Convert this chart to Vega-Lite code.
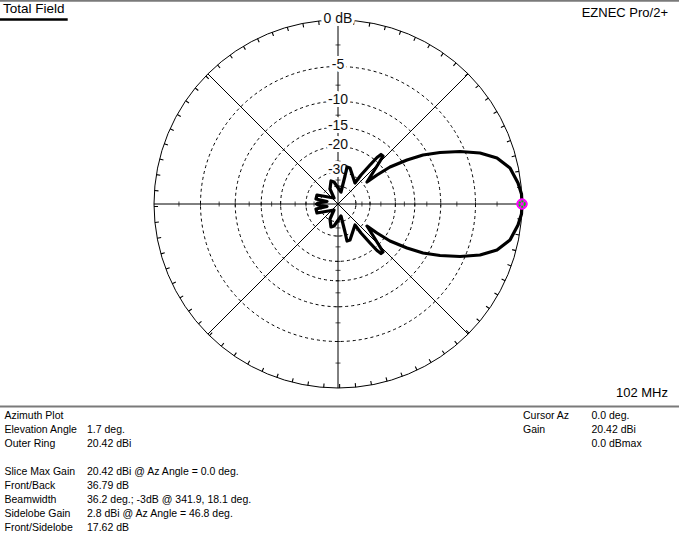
{
  "$schema": "https://vega.github.io/schema/vega-lite/v6.json",
  "width": 679,
  "height": 538,
  "autosize": {"type": "none"},
  "padding": 0,
  "background": "white",
  "config": {"view": {"stroke": null}, "text": {"font": "Liberation Sans"}},
  "datasets": {
    "rings": [
      {"db": 0, "r": 1, "lab": "0 dB"},
      {"db": -5, "r": 0.74727, "lab": "-5"},
      {"db": -10, "r": 0.55841, "lab": "-10"},
      {"db": -15, "r": 0.41727, "lab": "-15"},
      {"db": -20, "r": 0.3118, "lab": "-20"},
      {"db": -30, "r": 0.1741, "lab": "-30"},
      {"db": -40, "r": 0.09722, "lab": ""}
    ],
    "spokes": [
      {"x1": -1, "y1": 0, "x2": 1, "y2": 0},
      {"x1": 0, "y1": -1, "x2": 0, "y2": 1},
      {"x1": -0.70711, "y1": -0.70711, "x2": 0.70711, "y2": 0.70711},
      {"x1": -0.70711, "y1": 0.70711, "x2": 0.70711, "y2": -0.70711}
    ],
    "ticks": [
      {"t": 0.86444}, {"t": 0.74727}, {"t": 0.64596}, {"t": 0.55841}, {"t": 0.48274}, {"t": 0.41727},
      {"t": 0.36072}, {"t": 0.3118}, {"t": 0.233}, {"t": 0.1741}, {"t": 0.1301}, {"t": 0.09722},
      {"t": -0.86444}, {"t": -0.74727}, {"t": -0.64596}, {"t": -0.55841}, {"t": -0.48274}, {"t": -0.41727},
      {"t": -0.36072}, {"t": -0.3118}, {"t": -0.233}, {"t": -0.1741}, {"t": -0.1301}, {"t": -0.09722}
    ],
    "pattern": [
      {"i": 0, "x": 1.0, "y": 0.0},
      {"i": 1, "x": 0.9973, "y": 0.0543},
      {"i": 2, "x": 0.9783, "y": 0.1141},
      {"i": 3, "x": 0.9348, "y": 0.1957},
      {"i": 4, "x": 0.8641, "y": 0.25},
      {"i": 5, "x": 0.7717, "y": 0.2772},
      {"i": 6, "x": 0.663, "y": 0.2853},
      {"i": 7, "x": 0.5543, "y": 0.2799},
      {"i": 8, "x": 0.462, "y": 0.2663},
      {"i": 9, "x": 0.375, "y": 0.2391},
      {"i": 10, "x": 0.2826, "y": 0.2011},
      {"i": 11, "x": 0.212, "y": 0.1576},
      {"i": 12, "x": 0.1576, "y": 0.1196},
      {"i": 13, "x": 0.1984, "y": 0.1848},
      {"i": 14, "x": 0.2255, "y": 0.2283},
      {"i": 15, "x": 0.2446, "y": 0.2609},
      {"i": 16, "x": 0.2337, "y": 0.269},
      {"i": 17, "x": 0.212, "y": 0.2527},
      {"i": 18, "x": 0.1739, "y": 0.212},
      {"i": 19, "x": 0.125, "y": 0.1576},
      {"i": 20, "x": 0.0924, "y": 0.1141},
      {"i": 21, "x": 0.0761, "y": 0.163},
      {"i": 22, "x": 0.0652, "y": 0.1957},
      {"i": 23, "x": 0.0489, "y": 0.2011},
      {"i": 24, "x": 0.038, "y": 0.1522},
      {"i": 25, "x": 0.0163, "y": 0.0652},
      {"i": 26, "x": -0.0217, "y": 0.1196},
      {"i": 27, "x": -0.038, "y": 0.125},
      {"i": 28, "x": -0.0435, "y": 0.0815},
      {"i": 29, "x": -0.0217, "y": 0.0326},
      {"i": 30, "x": -0.1141, "y": 0.0489},
      {"i": 31, "x": -0.1196, "y": 0.0272},
      {"i": 32, "x": -0.0598, "y": 0.0136},
      {"i": 33, "x": -0.1087, "y": 0.0054},
      {"i": 34, "x": -0.1168, "y": 0.0},
      {"i": 35, "x": -0.1087, "y": -0.0054},
      {"i": 36, "x": -0.0598, "y": -0.0136},
      {"i": 37, "x": -0.1196, "y": -0.0272},
      {"i": 38, "x": -0.1141, "y": -0.0489},
      {"i": 39, "x": -0.0217, "y": -0.0326},
      {"i": 40, "x": -0.0435, "y": -0.0815},
      {"i": 41, "x": -0.038, "y": -0.125},
      {"i": 42, "x": -0.0217, "y": -0.1196},
      {"i": 43, "x": 0.0163, "y": -0.0652},
      {"i": 44, "x": 0.038, "y": -0.1522},
      {"i": 45, "x": 0.0489, "y": -0.2011},
      {"i": 46, "x": 0.0652, "y": -0.1957},
      {"i": 47, "x": 0.0761, "y": -0.163},
      {"i": 48, "x": 0.0924, "y": -0.1141},
      {"i": 49, "x": 0.125, "y": -0.1576},
      {"i": 50, "x": 0.1739, "y": -0.212},
      {"i": 51, "x": 0.212, "y": -0.2527},
      {"i": 52, "x": 0.2337, "y": -0.269},
      {"i": 53, "x": 0.2446, "y": -0.2609},
      {"i": 54, "x": 0.2255, "y": -0.2283},
      {"i": 55, "x": 0.1984, "y": -0.1848},
      {"i": 56, "x": 0.1576, "y": -0.1196},
      {"i": 57, "x": 0.212, "y": -0.1576},
      {"i": 58, "x": 0.2826, "y": -0.2011},
      {"i": 59, "x": 0.375, "y": -0.2391},
      {"i": 60, "x": 0.462, "y": -0.2663},
      {"i": 61, "x": 0.5543, "y": -0.2799},
      {"i": 62, "x": 0.663, "y": -0.2853},
      {"i": 63, "x": 0.7717, "y": -0.2772},
      {"i": 64, "x": 0.8641, "y": -0.25},
      {"i": 65, "x": 0.9348, "y": -0.1957},
      {"i": 66, "x": 0.9783, "y": -0.1141},
      {"i": 67, "x": 0.9973, "y": -0.0543},
      {"i": 68, "x": 1.0, "y": 0.0}
    ],
    "cursor": [{"az": 0, "x": 1, "y": 0}],
    "headL": [{"col": 0, "row": 0, "text": "Total Field"}],
    "headR": [
      {"col": 5, "row": 1, "text": "EZNEC Pro/2+"},
      {"col": 5, "row": 2, "text": "102 MHz"}
    ],
    "panel": [
      {"col": 1, "row": 3, "text": "Azimuth Plot"},
      {"col": 1, "row": 4, "text": "Elevation Angle"},
      {"col": 2, "row": 4, "text": "1.7 deg."},
      {"col": 1, "row": 5, "text": "Outer Ring"},
      {"col": 2, "row": 5, "text": "20.42 dBi"},
      {"col": 1, "row": 7, "text": "Slice Max Gain"},
      {"col": 2, "row": 7, "text": "20.42 dBi @ Az Angle = 0.0 deg."},
      {"col": 1, "row": 8, "text": "Front/Back"},
      {"col": 2, "row": 8, "text": "36.79 dB"},
      {"col": 1, "row": 9, "text": "Beamwidth"},
      {"col": 2, "row": 9, "text": "36.2 deg.; -3dB @ 341.9, 18.1 deg."},
      {"col": 1, "row": 10, "text": "Sidelobe Gain"},
      {"col": 2, "row": 10, "text": "2.8 dBi @ Az Angle = 46.8 deg."},
      {"col": 1, "row": 11, "text": "Front/Sidelobe"},
      {"col": 2, "row": 11, "text": "17.62 dB"},
      {"col": 3, "row": 3, "text": "Cursor Az"},
      {"col": 4, "row": 3, "text": "0.0 deg."},
      {"col": 3, "row": 4, "text": "Gain"},
      {"col": 4, "row": 4, "text": "20.42 dBi"},
      {"col": 4, "row": 5, "text": "0.0 dBmax"}
    ]
  },
  "layer": [
    {
      "layer": [
        {
          "data": {"name": "rings"},
          "transform": [{"filter": "datum.db < 0"}],
          "mark": {"type": "arc", "filled": false, "stroke": "black", "strokeWidth": 1, "strokeDash": [3, 3], "theta": 0, "theta2": 6.2832},
          "encoding": {
            "x": {"datum": 0, "type": "quantitative", "scale": {"type": "linear", "domain": [-1.83696, 1.85326], "nice": false, "zero": false}, "axis": null},
            "y": {"datum": 0, "type": "quantitative", "scale": {"type": "linear", "domain": [-1.81522, 1.1087], "nice": false, "zero": false}, "axis": null},
            "radius": {"field": "r", "type": "quantitative", "stack": null, "scale": {"type": "linear", "domain": [0, 1], "range": [0, 184], "zero": true, "nice": false}}
          }
        },
        {
          "data": {"name": "rings"},
          "transform": [{"filter": "datum.db == 0"}],
          "mark": {"type": "arc", "filled": false, "stroke": "black", "strokeWidth": 1, "theta": 0, "theta2": 6.2832},
          "encoding": {
            "x": {"datum": 0, "type": "quantitative", "scale": {"type": "linear", "domain": [-1.83696, 1.85326], "nice": false, "zero": false}, "axis": null},
            "y": {"datum": 0, "type": "quantitative", "scale": {"type": "linear", "domain": [-1.81522, 1.1087], "nice": false, "zero": false}, "axis": null},
            "radius": {"field": "r", "type": "quantitative", "stack": null, "scale": {"type": "linear", "domain": [0, 1], "range": [0, 184], "zero": true, "nice": false}}
          }
        },
        {
          "data": {"name": "rings"},
          "transform": [{"filter": "datum.db == 0"}],
          "mark": {"type": "arc", "filled": false, "stroke": "black", "strokeWidth": 4, "strokeDash": [1.1, 14.73], "strokeDashOffset": 0.55, "radiusOffset": -2, "theta": 0, "theta2": 6.2832},
          "encoding": {
            "x": {"datum": 0, "type": "quantitative", "scale": {"type": "linear", "domain": [-1.83696, 1.85326], "nice": false, "zero": false}, "axis": null},
            "y": {"datum": 0, "type": "quantitative", "scale": {"type": "linear", "domain": [-1.81522, 1.1087], "nice": false, "zero": false}, "axis": null},
            "radius": {"field": "r", "type": "quantitative", "stack": null, "scale": {"type": "linear", "domain": [0, 1], "range": [0, 184], "zero": true, "nice": false}}
          }
        },
        {
          "data": {"name": "spokes"},
          "mark": {"type": "rule", "stroke": "black", "strokeWidth": 1},
          "encoding": {
            "x": {"field": "x1", "type": "quantitative", "scale": {"type": "linear", "domain": [-1.83696, 1.85326], "nice": false, "zero": false}, "axis": null},
            "y": {"field": "y1", "type": "quantitative", "scale": {"type": "linear", "domain": [-1.81522, 1.1087], "nice": false, "zero": false}, "axis": null},
            "x2": {"field": "x2"},
            "y2": {"field": "y2"}
          }
        },
        {
          "data": {"name": "ticks"},
          "mark": {"type": "tick", "orient": "vertical", "size": 5, "thickness": 1, "color": "black"},
          "encoding": {
            "x": {"field": "t", "type": "quantitative", "scale": {"type": "linear", "domain": [-1.83696, 1.85326], "nice": false, "zero": false}, "axis": null},
            "y": {"datum": 0, "type": "quantitative", "scale": {"type": "linear", "domain": [-1.81522, 1.1087], "nice": false, "zero": false}, "axis": null}
          }
        },
        {
          "data": {"name": "ticks"},
          "mark": {"type": "tick", "orient": "horizontal", "size": 5, "thickness": 1, "color": "black"},
          "encoding": {
            "x": {"datum": 0, "type": "quantitative", "scale": {"type": "linear", "domain": [-1.83696, 1.85326], "nice": false, "zero": false}, "axis": null},
            "y": {"field": "t", "type": "quantitative", "scale": {"type": "linear", "domain": [-1.81522, 1.1087], "nice": false, "zero": false}, "axis": null}
          }
        },
        {
          "data": {"name": "rings"},
          "transform": [{"filter": "datum.lab != ''"}],
          "mark": {"type": "text", "fontSize": 14, "font": "Liberation Sans", "fill": "white", "stroke": "white", "strokeWidth": 6, "strokeJoin": "round", "align": "center", "baseline": "middle", "dy": -1.5},
          "encoding": {
            "x": {"datum": 0, "type": "quantitative", "scale": {"type": "linear", "domain": [-1.83696, 1.85326], "nice": false, "zero": false}, "axis": null},
            "y": {"field": "r", "type": "quantitative", "scale": {"type": "linear", "domain": [-1.81522, 1.1087], "nice": false, "zero": false}, "axis": null},
            "text": {"field": "lab"}
          }
        },
        {
          "data": {"name": "rings"},
          "transform": [{"filter": "datum.lab != ''"}],
          "mark": {"type": "text", "fontSize": 14, "font": "Liberation Sans", "fill": "#101010", "align": "center", "baseline": "middle", "dy": -1.5},
          "encoding": {
            "x": {"datum": 0, "type": "quantitative", "scale": {"type": "linear", "domain": [-1.83696, 1.85326], "nice": false, "zero": false}, "axis": null},
            "y": {"field": "r", "type": "quantitative", "scale": {"type": "linear", "domain": [-1.81522, 1.1087], "nice": false, "zero": false}, "axis": null},
            "text": {"field": "lab"}
          }
        },
        {
          "data": {"name": "pattern"},
          "mark": {"type": "line", "stroke": "black", "strokeWidth": 3.2, "strokeJoin": "round", "strokeCap": "round"},
          "encoding": {
            "x": {"field": "x", "type": "quantitative", "scale": {"type": "linear", "domain": [-1.83696, 1.85326], "nice": false, "zero": false}, "axis": null},
            "y": {"field": "y", "type": "quantitative", "scale": {"type": "linear", "domain": [-1.81522, 1.1087], "nice": false, "zero": false}, "axis": null},
            "order": {"field": "i", "type": "quantitative"}
          }
        },
        {
          "data": {"name": "cursor"},
          "mark": {"type": "point", "shape": "circle", "filled": true, "size": 110, "fill": "#ff00ff", "stroke": "#ff00ff", "strokeWidth": 1, "opacity": 1},
          "encoding": {
            "x": {"field": "x", "type": "quantitative", "scale": {"type": "linear", "domain": [-1.83696, 1.85326], "nice": false, "zero": false}, "axis": null},
            "y": {"field": "y", "type": "quantitative", "scale": {"type": "linear", "domain": [-1.81522, 1.1087], "nice": false, "zero": false}, "axis": null}
          }
        },
        {
          "data": {"name": "cursor"},
          "mark": {"type": "point", "shape": "circle", "filled": false, "size": 30, "stroke": "#00d000", "strokeWidth": 2, "strokeDash": [2, 1], "opacity": 1},
          "encoding": {
            "x": {"field": "x", "type": "quantitative", "scale": {"type": "linear", "domain": [-1.83696, 1.85326], "nice": false, "zero": false}, "axis": null},
            "y": {"field": "y", "type": "quantitative", "scale": {"type": "linear", "domain": [-1.81522, 1.1087], "nice": false, "zero": false}, "axis": null}
          }
        },
        {
          "data": {"values": [{}]},
          "mark": {"type": "rule", "stroke": "#7a7a7a", "strokeWidth": 2},
          "encoding": {
            "x": {"datum": -1.83696, "type": "quantitative", "scale": {"type": "linear", "domain": [-1.83696, 1.85326], "nice": false, "zero": false}, "axis": null},
            "x2": {"datum": 1.85326},
            "y": {"datum": -1.10054, "type": "quantitative", "scale": {"type": "linear", "domain": [-1.81522, 1.1087], "nice": false, "zero": false}, "axis": null}
          }
        },
        {
          "data": {"values": [{}]},
          "mark": {"type": "rule", "stroke": "#7a7a7a", "strokeWidth": 1.7},
          "encoding": {
            "x": {"datum": -1.83696, "type": "quantitative", "scale": {"type": "linear", "domain": [-1.83696, 1.85326], "nice": false, "zero": false}, "axis": null},
            "x2": {"datum": 1.85326},
            "y": {"datum": 1.10435, "type": "quantitative", "scale": {"type": "linear", "domain": [-1.81522, 1.1087], "nice": false, "zero": false}, "axis": null}
          }
        },
        {
          "data": {"values": [{}]},
          "mark": {"type": "rule", "stroke": "black", "strokeWidth": 2.5},
          "encoding": {
            "x": {"datum": -1.83696, "type": "quantitative", "scale": {"type": "linear", "domain": [-1.83696, 1.85326], "nice": false, "zero": false}, "axis": null},
            "x2": {"datum": -1.46902},
            "y": {"datum": 1.00272, "type": "quantitative", "scale": {"type": "linear", "domain": [-1.81522, 1.1087], "nice": false, "zero": false}, "axis": null}
          }
        }
      ]
    },
    {
      "layer": [
        {
          "data": {"name": "headL"},
          "mark": {"type": "text", "fontSize": 13.5, "font": "Liberation Sans", "fill": "black", "align": "left", "baseline": "middle"},
          "encoding": {
            "x": {"field": "col", "type": "quantitative", "scale": {"type": "linear", "domain": [0, 1, 2, 3, 4, 5], "range": [3, 4.5, 87, 523, 591.5, 668], "nice": false, "zero": false}, "axis": null},
            "y": {"field": "row", "type": "quantitative", "scale": {"type": "linear", "domain": [0, 1, 2, 3, 11], "range": [9.2, 12.7, 392.7, 416.3, 528.3], "nice": false, "zero": false}, "axis": null},
            "text": {"field": "text"}
          }
        },
        {
          "data": {"name": "headR"},
          "mark": {"type": "text", "fontSize": 13, "font": "Liberation Sans", "fill": "black", "align": "right", "baseline": "middle"},
          "encoding": {
            "x": {"field": "col", "type": "quantitative", "scale": {"type": "linear", "domain": [0, 1, 2, 3, 4, 5], "range": [3, 4.5, 87, 523, 591.5, 668], "nice": false, "zero": false}, "axis": null},
            "y": {"field": "row", "type": "quantitative", "scale": {"type": "linear", "domain": [0, 1, 2, 3, 11], "range": [9.2, 12.7, 392.7, 416.3, 528.3], "nice": false, "zero": false}, "axis": null},
            "text": {"field": "text"}
          }
        },
        {
          "data": {"name": "panel"},
          "mark": {"type": "text", "fontSize": 10.5, "font": "Liberation Sans", "fill": "black", "align": "left", "baseline": "middle"},
          "encoding": {
            "x": {"field": "col", "type": "quantitative", "scale": {"type": "linear", "domain": [0, 1, 2, 3, 4, 5], "range": [3, 4.5, 87, 523, 591.5, 668], "nice": false, "zero": false}, "axis": null},
            "y": {"field": "row", "type": "quantitative", "scale": {"type": "linear", "domain": [0, 1, 2, 3, 11], "range": [9.2, 12.7, 392.7, 416.3, 528.3], "nice": false, "zero": false}, "axis": null},
            "text": {"field": "text"}
          }
        }
      ]
    }
  ],
  "resolve": {"scale": {"x": "independent", "y": "independent"}}
}
